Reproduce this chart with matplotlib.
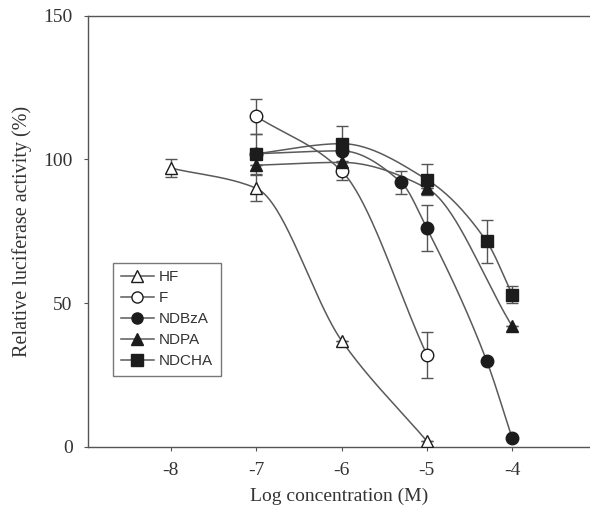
import numpy as np
import matplotlib
matplotlib.use("Agg")
import matplotlib.pyplot as plt

plt.rcParams["axes.unicode_minus"] = False

# log concentration (M) and relative activity (%)
hf_x = [-8, -7, -6, -5]
hf_y = [97, 90, 37, 2]
hf_err = [3, 4.5, 0, 0]

f_x = [-7, -6, -5]
f_y = [115, 96, 32]
f_err = [6, 3, 8]

bza_x = [-7, -6, -5.3, -5, -4.3, -4]
bza_y = [102, 103, 92, 76, 30, 3]
bza_err = [0, 0, 4, 8, 0, 0]

pa_x = [-7, -6, -5, -4]
pa_y = [98, 99, 90, 42]
pa_err = [0, 0, 0, 0]

cha_x = [-7, -6, -5, -4.3, -4]
cha_y = [102, 105.5, 93, 71.5, 53]
cha_err = [7, 6, 5.5, 7.5, 3]


def pchip(x, y, n=200):
    # monotone cubic, just to draw the smooth connecting curve
    x = np.asarray(x, float)
    y = np.asarray(y, float)
    h = np.diff(x)
    d = np.diff(y) / h
    m = np.zeros_like(y)
    for k in range(1, len(x) - 1):
        if d[k - 1] * d[k] > 0:
            w1 = 2 * h[k] + h[k - 1]
            w2 = h[k] + 2 * h[k - 1]
            m[k] = (w1 + w2) / (w1 / d[k - 1] + w2 / d[k])
    m[0] = d[0]
    m[-1] = d[-1]
    xs = np.linspace(x[0], x[-1], n)
    ys = np.empty_like(xs)
    for i, xv in enumerate(xs):
        k = min(np.searchsorted(x, xv, side="right") - 1, len(h) - 1)
        t = (xv - x[k]) / h[k]
        h00 = 2 * t**3 - 3 * t**2 + 1
        h10 = t**3 - 2 * t**2 + t
        h01 = -2 * t**3 + 3 * t**2
        h11 = t**3 - t**2
        ys[i] = h00 * y[k] + h10 * h[k] * m[k] + h01 * y[k + 1] + h11 * h[k] * m[k + 1]
    return xs, ys


fig = plt.figure(figsize=(5.9, 5.09), dpi=100)
ax = fig.add_axes([0.149, 0.122, 0.851, 0.847])

line_c = "#5a5a5a"
mk_c = "#1c1c1c"
series = [
    ("HF", hf_x, hf_y, hf_err, "^", "white"),
    ("F", f_x, f_y, f_err, "o", "white"),
    ("NDBzA", bza_x, bza_y, bza_err, "o", mk_c),
    ("NDPA", pa_x, pa_y, pa_err, "^", mk_c),
    ("NDCHA", cha_x, cha_y, cha_err, "s", mk_c),
]

handles = []
for name, x, y, err, mk, fc in series:
    xs, ys = pchip(x, y)
    ax.plot(xs, ys, color=line_c, lw=1.1, zorder=2)
    ax.errorbar(x, y, yerr=err, fmt="none", ecolor="#555555", elinewidth=1,
                capsize=4, capthick=1, zorder=3)
    ax.plot(x, y, ls="none", marker=mk, ms=9, mfc=fc, mec=mk_c, mew=1, zorder=4)
    h, = ax.plot([], [], color=line_c, lw=1.1, marker=mk, ms=8, mfc=fc, mec=mk_c)
    handles.append((h, name))

ax.set_xlim(-8.973, -3.088)
ax.set_ylim(0, 150)
ax.set_xticks([-8, -7, -6, -5, -4])
ax.set_yticks([0, 50, 100, 150])
ax.spines["right"].set_visible(False)
for s in ["left", "top", "bottom"]:
    ax.spines[s].set_color("#555555")
    ax.spines[s].set_linewidth(1)
ax.tick_params(direction="out", length=3, color="#555555", labelcolor="#333333",
               labelsize=14, pad=8)
for lab in ax.get_xticklabels() + ax.get_yticklabels():
    lab.set_family("Liberation Serif")

ax.set_xlabel("Log concentration (M)", family="Liberation Serif", fontsize=14,
              color="#333333", labelpad=6)
ax.set_ylabel("Relative luciferase activity (%)", family="Liberation Serif",
              fontsize=14.5, color="#333333", labelpad=8)

leg = ax.legend([h for h, _ in handles], [n for _, n in handles],
                loc="upper left", bbox_to_anchor=(0.05, 0.427), borderaxespad=0,
                prop={"family": "Liberation Sans", "size": 11},
                frameon=True, fancybox=False, handlelength=2.2,
                labelspacing=0.45, borderpad=0.5, handletextpad=0.3)
leg.get_frame().set_edgecolor("#555555")
leg.get_frame().set_linewidth(1)
for t in leg.get_texts():
    t.set_color("#333333")

fig.savefig("out.png", dpi=100)
